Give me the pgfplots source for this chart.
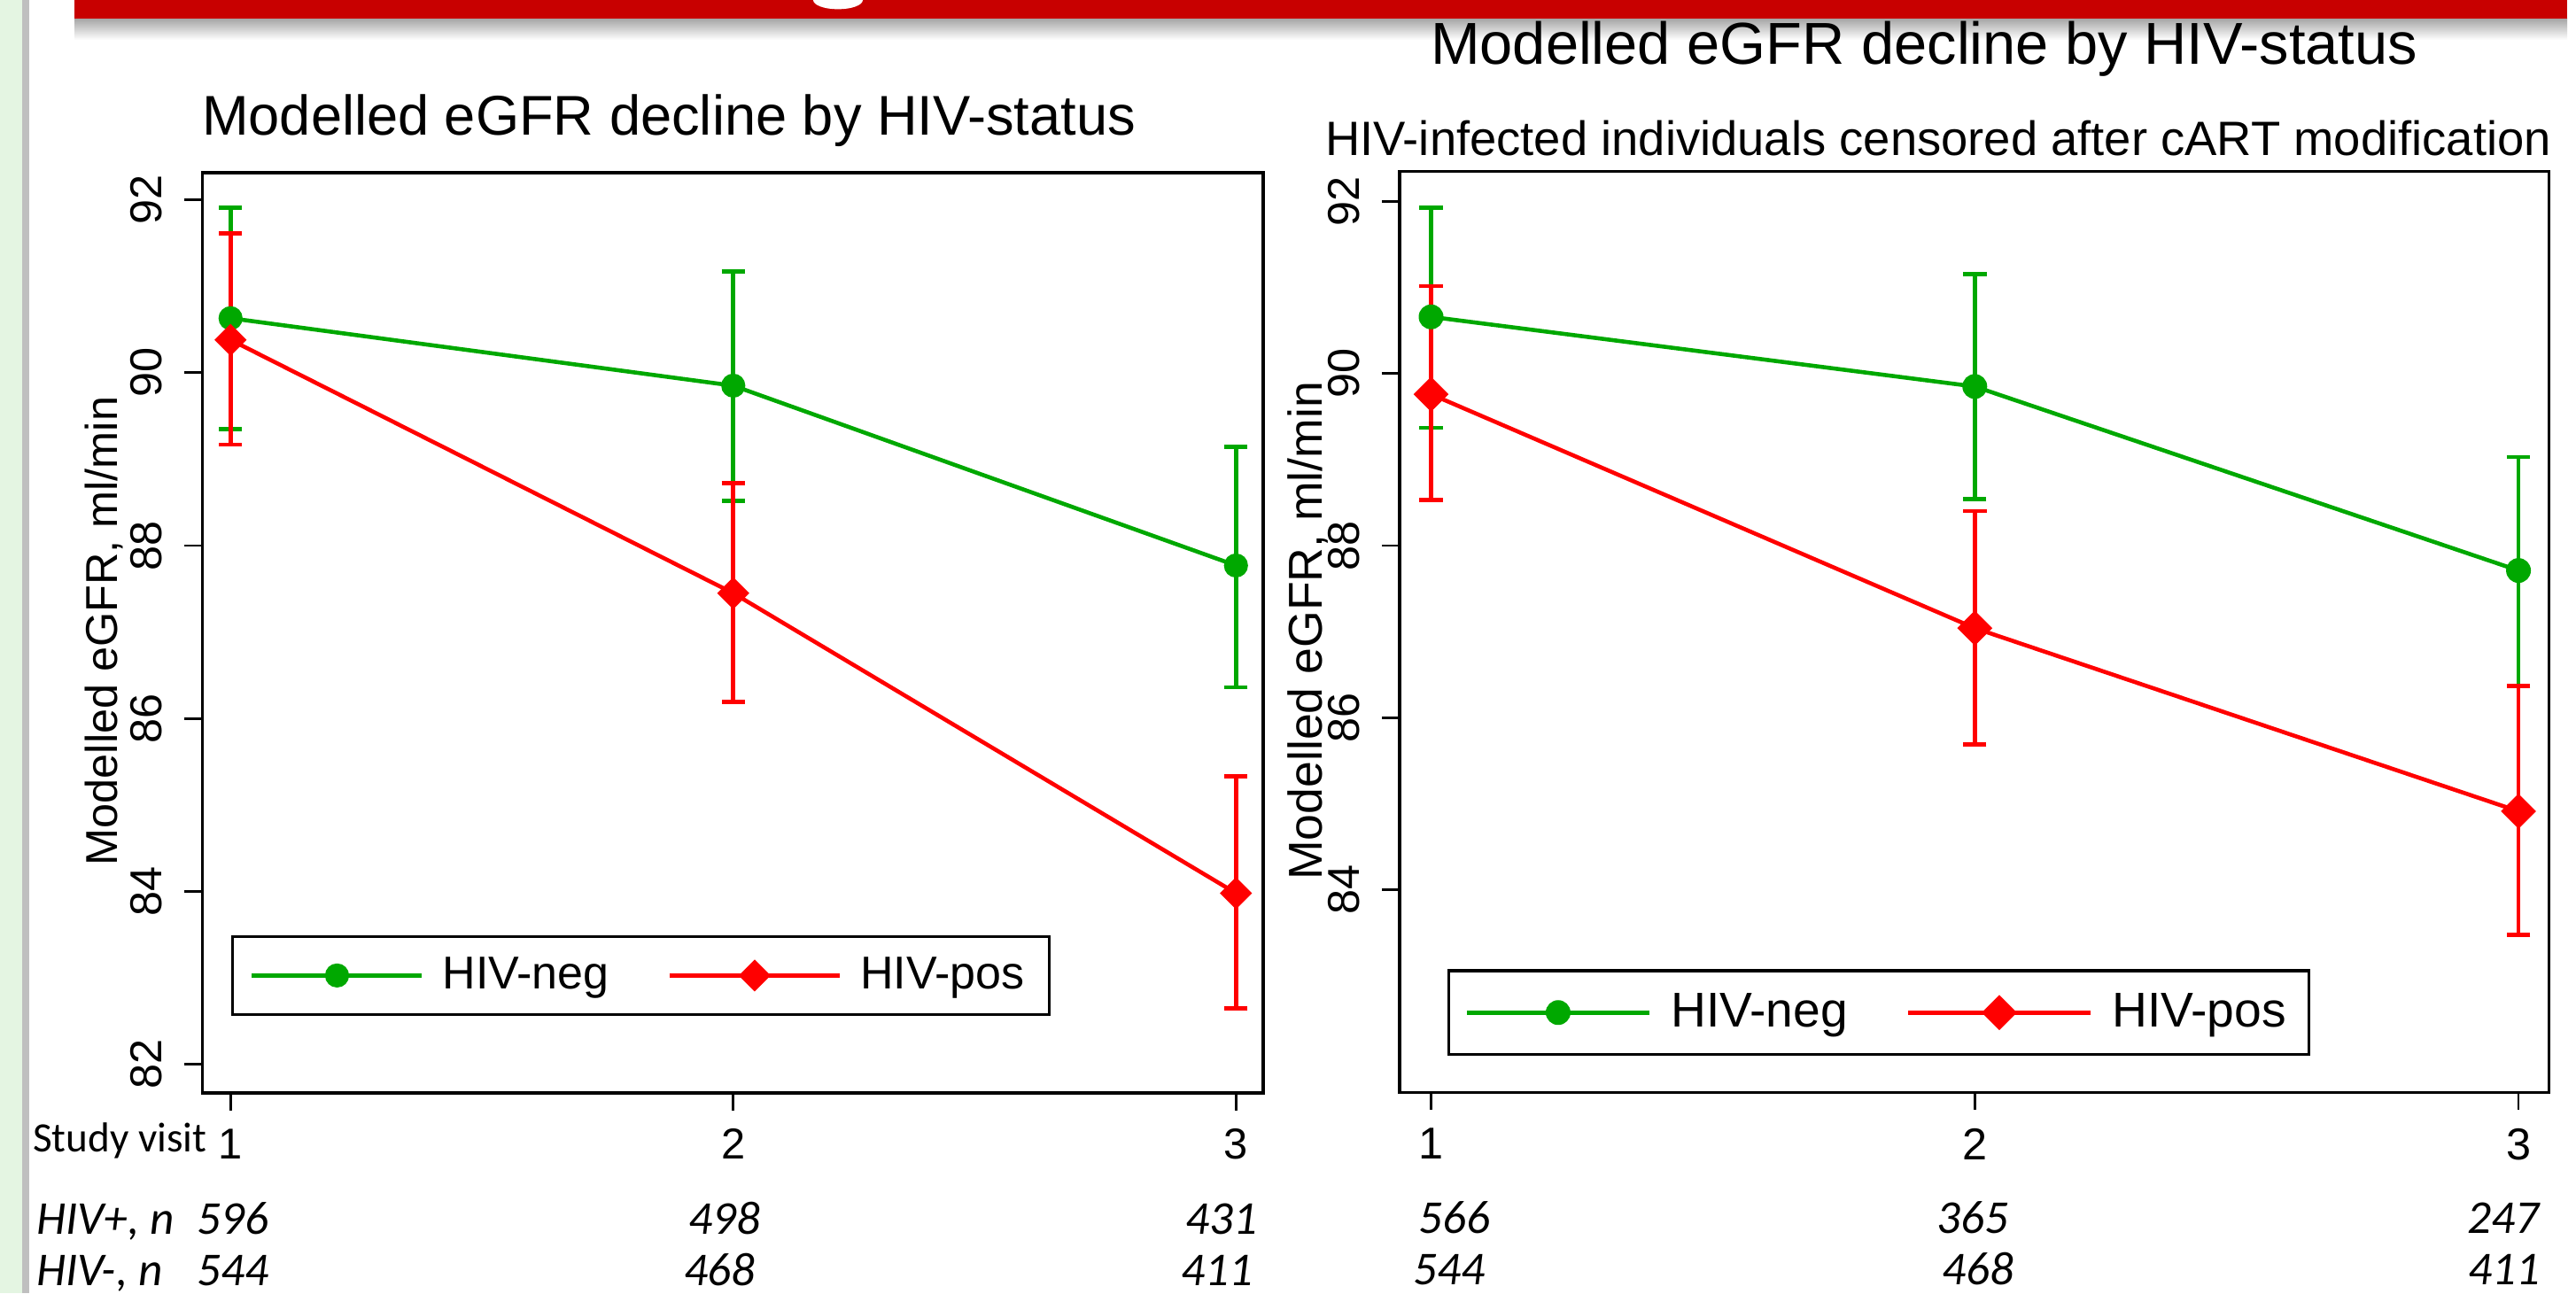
\documentclass[border=0pt]{standalone}
\usepackage{pgfplots}
\pgfplotsset{compat=1.18}
\usepackage{pgfplotstable}
\usepackage{fontspec}
\setmainfont{Liberation Sans}
\newfontfamily\calibri{Carlito}
\definecolor{hivgreen}{RGB}{0,168,0}
\definecolor{hivred}{RGB}{255,0,0}
\definecolor{banner}{RGB}{200,0,0}
\definecolor{sidegreen}{RGB}{228,245,226}
\definecolor{sidegray}{RGB}{191,191,191}

\pgfplotstableread{
x y lo hi
1 90.63 89.35 91.91
2 89.85 88.52 91.17
3 87.77 86.36 89.14
}\leftneg
\pgfplotstableread{
x y lo hi
1 90.38 89.17 91.61
2 87.45 86.19 88.72
3 83.98 82.65 85.33
}\leftpos
\pgfplotstableread{
x y lo hi
1 90.66 89.37 91.93
2 89.85 88.54 91.16
3 87.71 86.37 89.03
}\rightneg
\pgfplotstableread{
x y lo hi
1 89.76 88.53 91.02
2 87.04 85.69 88.40
3 84.91 83.47 86.37
}\rightpos

\pgfplotsset{
  eg/.style={
    scale only axis, clip=false,
    xtick={1,2,3}, tick pos=left, tick align=outside,
    major tick length=5pt,
    every tick/.style={black, line width=0.7pt},
    axis line style={line width=0.9pt},
    /pgf/number format/assume math mode=true,
    xticklabel style={anchor=north, inner sep=0pt, yshift=-5pt},
    legend columns=2,
  },
  cibar/.style={only marks, mark=none, forget plot,
    error bars/y dir=both, error bars/y explicit,
    error bars/error bar style={draw=#1, line width=1.15pt, solid},
    error bars/error mark options={draw=#1, line width=1.15pt, mark size=3.3pt, rotate=90}},
}

\begin{document}
\begin{tikzpicture}
\useasboundingbox (0,0) rectangle (727pt,365pt);
% slide decoration
\fill[sidegreen] (0,0) rectangle (6.25pt,365pt);
\fill[sidegray] (6.25pt,0) rectangle (8.25pt,365pt);
\shade[top color=black!35, bottom color=white] (21pt,353.75pt) rectangle (724.5pt,359.75pt);
\fill[banner] (21pt,359.75pt) rectangle (724.5pt,365pt);
\fill[white] (236.5pt,365pt) ellipse (7pt and 2.6pt);

% ---------------- left panel ----------------
\begin{axis}[eg,
  at={(57.125pt,56.5pt)}, anchor=south west,
  width=299.35pt, height=259.75pt,
  xmin=0.944, xmax=3.054, ymin=81.669, ymax=92.313,
  ytick={82,84,...,92},
  yticklabel style={xshift=-6.3pt, rotate=90, anchor=south, inner sep=0pt, font=\fontsize{12.6}{13}\selectfont},
  xticklabel style={font=\fontsize{12.2}{13}\selectfont},
  title={Modelled eGFR decline by HIV-status},
  title style={at={(axis description cs:0.4397,1.0176)}, anchor=base, inner sep=0pt, font=\fontsize{15.8}{17}\selectfont},
  ylabel={Modelled eGFR, ml/min},
  every axis y label/.style={at={(axis description cs:-0.0798,0.502)}, rotate=90, anchor=base, inner sep=0pt, font=\fontsize{12.6}{14}\selectfont},
  legend style={at={(axis description cs:0.0268,0.0837)}, anchor=south west,
    draw=black, line width=0.8pt, inner xsep=5pt, inner ysep=3.8pt,
    font=\fontsize{13}{15}\selectfont,
    nodes={inner sep=2pt, text depth=0.15em},
    /tikz/every odd column/.append style={column sep=3.25pt},
    /tikz/every even column/.append style={column sep=14.5pt}},
  legend image code/.code={\draw[mark repeat=2,mark phase=2,#1] plot coordinates {(0pt,0pt)(24pt,0pt)(48pt,0pt)};},
]
\addplot[cibar=hivgreen] table[x=x, y=y, y error plus expr=\thisrow{hi}-\thisrow{y}, y error minus expr=\thisrow{y}-\thisrow{lo}] {\leftneg};
\addplot[cibar=hivred] table[x=x, y=y, y error plus expr=\thisrow{hi}-\thisrow{y}, y error minus expr=\thisrow{y}-\thisrow{lo}] {\leftpos};
\addplot[hivgreen, line width=1.15pt, mark=*, mark size=3.2pt, mark options={solid, line width=0.4pt}] table[x=x,y=y] {\leftneg};
\addlegendentry{HIV-neg}
\addplot[hivred, line width=1.15pt, mark=square*, mark size=3.0pt, mark options={solid, rotate=45, line width=0.4pt}] table[x=x,y=y] {\leftpos};
\addlegendentry{HIV-pos}
% study visit and counts
\node[anchor=base west, inner sep=0pt, font=\calibri\fontsize{11.8}{13}\selectfont] at (axis cs:0.6052,80.993) {Study visit};
\node[anchor=base west, inner sep=0pt, font=\calibri\itshape\fontsize{13.3}{15}\selectfont] at (axis cs:0.6123,80.04) {HIV+, n};
\node[anchor=base west, inner sep=0pt, font=\calibri\itshape\fontsize{13.3}{15}\selectfont] at (axis cs:0.6123,79.44) {HIV-, n};
\begin{scope}[every node/.style={anchor=base, inner sep=0pt, font=\calibri\itshape\fontsize{13.3}{15}\selectfont}]
\node at (axis cs:1.005,80.04) {596};
\node at (axis cs:1.983,80.04) {498};
\node at (axis cs:2.972,80.04) {431};
\node at (axis cs:1.005,79.44) {544};
\node at (axis cs:1.973,79.44) {468};
\node at (axis cs:2.963,79.44) {411};
\end{scope}
\end{axis}

% ---------------- right panel ----------------
\begin{axis}[eg,
  at={(395.05pt,56.675pt)}, anchor=south west,
  width=324.3pt, height=260pt,
  xmin=0.9425, xmax=3.056, ymin=81.641, ymax=92.354,
  ytick={84,86,...,92},
  yticklabel style={xshift=-6pt, rotate=90, anchor=south, inner sep=0pt, font=\fontsize{12.6}{13}\selectfont},
  xticklabel style={font=\fontsize{12.6}{13}\selectfont},
  title={Modelled eGFR decline by HIV-status},
  title style={at={(axis description cs:0.4562,1.0929)}, anchor=base, inner sep=0pt, font=\fontsize{16.7}{18}\selectfont},
  ylabel={Modelled eGFR, ml/min},
  every axis y label/.style={at={(axis description cs:-0.068,0.501)}, rotate=90, anchor=base, inner sep=0pt, font=\fontsize{13.4}{15}\selectfont},
  legend style={at={(axis description cs:0.0415,0.0397)}, anchor=south west,
    draw=black, line width=0.8pt, inner xsep=4.5pt, inner ysep=4.3pt,
    font=\fontsize{13.8}{15}\selectfont,
    nodes={inner sep=2pt, text depth=0.15em},
    /tikz/every odd column/.append style={column sep=3.5pt},
    /tikz/every even column/.append style={column sep=14.5pt}},
  legend image code/.code={\draw[mark repeat=2,mark phase=2,#1] plot coordinates {(0pt,0pt)(25.75pt,0pt)(51.5pt,0pt)};},
]
\node[anchor=base, inner sep=0pt, font=\fontsize{13.6}{15}\selectfont] at (axis description cs:0.4686,1.0176) {HIV-infected individuals censored after cART modification};
\addplot[cibar=hivgreen] table[x=x, y=y, y error plus expr=\thisrow{hi}-\thisrow{y}, y error minus expr=\thisrow{y}-\thisrow{lo}] {\rightneg};
\addplot[cibar=hivred] table[x=x, y=y, y error plus expr=\thisrow{hi}-\thisrow{y}, y error minus expr=\thisrow{y}-\thisrow{lo}] {\rightpos};
\addplot[hivgreen, line width=1.15pt, mark=*, mark size=3.3pt, mark options={solid, line width=0.4pt}] table[x=x,y=y] {\rightneg};
\addlegendentry{HIV-neg}
\addplot[hivred, line width=1.15pt, mark=square*, mark size=3.3pt, mark options={solid, rotate=45, line width=0.4pt}] table[x=x,y=y] {\rightpos};
\addlegendentry{HIV-pos}
\begin{scope}[every node/.style={anchor=base, inner sep=0pt, font=\calibri\itshape\fontsize{13.3}{15}\selectfont}]
\node at (axis cs:1.0425,79.997) {566};
\node at (axis cs:1.9964,79.997) {365};
\node at (axis cs:2.972,79.997) {247};
\node at (axis cs:1.0334,79.40) {544};
\node at (axis cs:2.006,79.40) {468};
\node at (axis cs:2.974,79.40) {411};
\end{scope}
\end{axis}
\end{tikzpicture}
\end{document}
